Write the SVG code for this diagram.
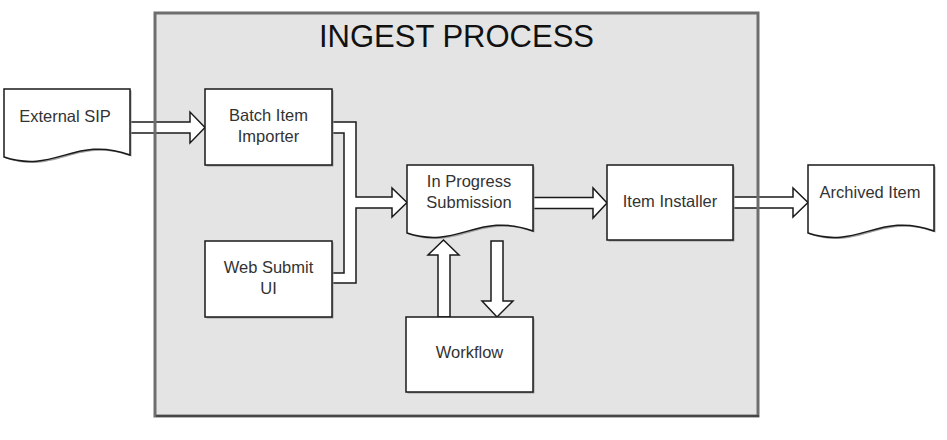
<svg xmlns="http://www.w3.org/2000/svg" width="947" height="440" viewBox="0 0 947 440">
<style>
  .box { fill: #ffffff; stroke: #1a1a1a; stroke-width: 1.5; }
  .shadow { fill: #a0a0a0; }
  .arrow { fill: #ffffff; stroke: #1a1a1a; stroke-width: 1.5; stroke-linejoin: miter; }
  .lbl { font-family: "Liberation Sans", Arial, sans-serif; font-size: 16.5px; fill: #333333; text-anchor: middle; }
  .title { font-family: "Liberation Sans", Arial, sans-serif; font-size: 31px; fill: #111111; text-anchor: middle; }
</style>
<defs>
  <path id="docShape" d="M0,0 H126 V66 C71,46 51,85 0,68 Z"/>
</defs>
<rect width="947" height="440" fill="#ffffff"/>
<g id="ingest-process">
  <rect x="155" y="13" width="603" height="403" fill="#e4e4e4"/>
</g>
<g id="connectors">
  <polygon class="arrow" points="130,122 190,122 190,112 205,127.5 190,143 190,133 130,133"/>
  <polygon class="arrow" points="332,122 356,122 356,197 392,197 392,188 407,202.5 392,217 392,208 356,208 356,283 332,283 332,273 344,273 344,133 332,133"/>
  <polygon class="arrow" points="532,197.5 593,197.5 593,188 607,203 593,218 593,208.5 532,208.5"/>
  <polygon class="arrow" points="733,197 793,197 793,188 808,202.5 793,217 793,208 733,208"/>
  <polygon class="arrow" points="438,317 438,255 428,255 443.5,240 459,255 450,255 450,317"/>
  <polygon class="arrow" points="491,241 503,241 503,301 513,301 497,317 482,301 491,301"/>
</g>
<rect x="155" y="13" width="603" height="403" fill="none" stroke="#6e6e6e" stroke-width="3"/>
<line x1="156" y1="416" x2="759" y2="416" stroke="#3a3a3a" stroke-width="1.5"/>
<text class="title" x="456.5" y="47">INGEST PROCESS</text>
<g id="external-sip">
  <use href="#docShape" x="5.5" y="90.5" class="shadow"/>
  <use href="#docShape" x="4" y="89" class="box"/>
  <text class="lbl" x="65" y="122">External SIP</text>
</g>
<g id="batch-item-importer">
  <rect class="shadow" x="206.5" y="90.5" width="127" height="76"/>
  <rect class="box" x="205" y="89" width="127" height="76"/>
  <text class="lbl" x="268.5" y="121">Batch Item</text>
  <text class="lbl" x="268.5" y="142">Importer</text>
</g>
<g id="web-submit-ui">
  <rect class="shadow" x="206.5" y="242.5" width="127" height="76"/>
  <rect class="box" x="205" y="241" width="127" height="76"/>
  <text class="lbl" x="268.5" y="273">Web Submit</text>
  <text class="lbl" x="268.5" y="294">UI</text>
</g>
<g id="in-progress-submission">
  <use href="#docShape" x="408.5" y="166.5" class="shadow"/>
  <use href="#docShape" x="407" y="165" class="box"/>
  <text class="lbl" x="469" y="187">In Progress</text>
  <text class="lbl" x="469" y="208">Submission</text>
</g>
<g id="item-installer">
  <rect class="shadow" x="608.5" y="166.5" width="126" height="75"/>
  <rect class="box" x="607" y="165" width="126" height="75"/>
  <text class="lbl" x="670" y="207">Item Installer</text>
</g>
<g id="archived-item">
  <use href="#docShape" x="809.5" y="166.5" class="shadow"/>
  <use href="#docShape" x="808" y="165" class="box"/>
  <text class="lbl" x="870" y="198">Archived Item</text>
</g>
<g id="workflow">
  <rect class="shadow" x="407.5" y="318.5" width="127" height="75"/>
  <rect class="box" x="406" y="317" width="127" height="75"/>
  <text class="lbl" x="469.5" y="358">Workflow</text>
</g>
</svg>
